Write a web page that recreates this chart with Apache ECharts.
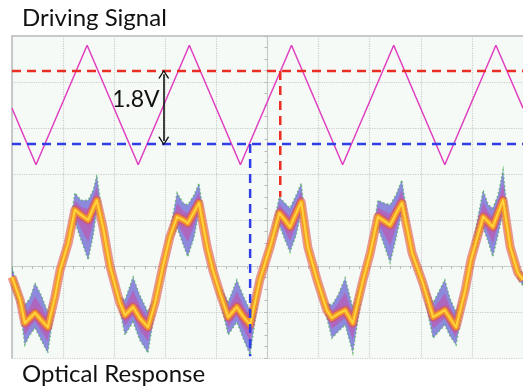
<!DOCTYPE html>
<html>
<head>
<meta charset="utf-8">
<script src="https://cdn.jsdelivr.net/npm/echarts@6/dist/echarts.min.js"></script>
<style>
  html, body { margin: 0; padding: 0; background: #fff; }
  #chart { width: 523px; height: 389px; }
</style>
</head>
<body>
<div id="chart"></div>
<script>
// screen divisions, measured from the centre of the scope screen
const driveX = [-5.00, -4.53, -3.53, -2.53, -1.53, -0.53, 0.47, 1.47, 2.47, 3.47, 4.47, 5.00]
const driveY = [3.43, 2.20, 4.80, 2.20, 4.80, 2.20, 4.80, 2.20, 4.80, 2.20, 4.80, 3.43]

// optical response: centre of the cloud and its upper / lower extent
const optX = [-5.00, -4.84, -4.75, -4.65, -4.55, -4.43, -4.30, -4.16, -4.06, -3.90, -3.77, -3.65, -3.51, -3.41, -3.34, -3.22, -3.08, -2.89,
  -2.79, -2.63, -2.50, -2.34, -2.20, -2.05, -1.91, -1.77, -1.65, -1.56, -1.44, -1.34, -1.18, -1.07, -0.93, -0.77,
  -0.60, -0.48, -0.34, -0.15, 0.05, 0.23, 0.34, 0.44, 0.56, 0.66, 0.79, 0.97, 1.16, 1.26,
  1.38, 1.52, 1.67, 1.87, 2.01, 2.16, 2.28, 2.40, 2.51, 2.63, 2.83, 3.04, 3.24,
  3.47, 3.57, 3.69, 3.87, 3.98, 4.22, 4.32, 4.41, 4.51, 4.61, 4.75, 4.90, 5.00]
const optCore = [-0.24, -0.74, -1.24, -1.13, -1.02, -1.17, -1.33, -0.67, -0.09, 0.50, 1.22, 1.11, 1.00, 1.26, 1.43, 0.85, -0.02, -0.80,
  -1.07, -0.89, -1.13, -1.33, -0.80, -0.02, 0.63, 1.07, 1.00, 0.93, 1.17, 1.37, 0.41, -0.09, -0.59, -1.11,
  -0.89, -1.09, -1.28, -0.30, 0.41, 1.15, 1.00, 0.85, 1.15, 1.39, 0.41, -0.30, -0.96, -1.13,
  -1.04, -0.96, -1.24, -0.30, 0.28, 1.07, 0.98, 0.89, 1.13, 1.37, 0.28, -0.37, -1.11,
  -0.96, -1.13, -1.33, -0.52, 0.13, 1.07, 0.96, 0.85, 1.15, 1.43, 0.41, -0.15, -0.30]
const optTop = [-0.04, -0.57, -0.85, -0.70, -0.37, -0.63, -1.00, -0.52, 0.04, 0.63, 1.59, 1.43, 1.43, 1.65, 1.98, 1.00, 0.11, -0.65,
  -0.74, -0.24, -0.63, -1.00, -0.65, 0.11, 0.76, 1.59, 1.37, 1.33, 1.54, 1.80, 0.54, 0.04, -0.43, -0.78,
  -0.30, -0.63, -0.96, -0.15, 0.54, 1.50, 1.37, 1.26, 1.54, 1.80, 0.54, -0.17, -0.80, -0.85,
  -0.63, -0.26, -0.91, -0.15, 0.41, 1.43, 1.37, 1.33, 1.54, 1.87, 0.41, -0.24, -0.80,
  -0.30, -0.70, -1.00, -0.39, 0.26, 1.65, 1.33, 1.26, 1.54, 2.09, 0.54, -0.02, -0.17]
const optBottom = [-0.43, -0.96, -1.72, -1.50, -1.35, -1.61, -1.89, -0.83, -0.22, 0.37, 0.96, 0.57, 0.13, 0.67, 1.22, 0.70, -0.15, -0.96,
  -1.50, -1.22, -1.61, -1.89, -0.96, -0.15, 0.50, 0.83, 0.46, 0.20, 0.61, 1.17, 0.28, -0.22, -0.74, -1.50,
  -1.22, -1.57, -1.93, -0.46, 0.28, 0.89, 0.57, 0.30, 0.67, 1.17, 0.28, -0.43, -1.13, -1.57,
  -1.43, -1.28, -1.89, -0.46, 0.15, 0.83, 0.46, 0.07, 0.57, 1.17, 0.15, -0.52, -1.57,
  -1.28, -1.52, -1.72, -0.65, 0.00, 0.83, 0.52, 0.20, 0.67, 1.17, 0.28, -0.28, -0.43]

// cursor levels and markers
const redLevel = 4.24
const blueLevel = 2.65
const redCursorX = 0.25
const redCursorEnd = 1.50
const blueCursorX = -0.34
const blueCursorEnd = -1.96
const arrowX = -2.03
const swingLabel = '1.8V'

const zip = (xs, ys) => xs.map((x, i) => [x, ys[i]])
const chevron = 'path://M0,10 L5,0 L10,10 L8.8,10.6 L5,2.6 L1.2,10.6 Z'

const chart = echarts.init(document.getElementById('chart'))

const gridLine = { show: true, lineStyle: { color: '#c9cdc9', type: 'dotted', width: 1.2 } }

// envelope of the noisy trace, drawn once: outer (blue) and inner (magenta) bands
function renderCloud(params, api) {
  if (params.dataIndex !== 0) return
  const band = (k) => {
    const up = optX.map((x, i) => api.coord([x, optCore[i] + k * (optTop[i] - optCore[i])]))
    const lo = optX.map((x, i) => api.coord([x, optCore[i] + k * (optBottom[i] - optCore[i])])).reverse()
    return up.concat(lo)
  }
  return {
    type: 'group',
    children: [
      {
        type: 'polygon',
        shape: { points: band(1) },
        style: { fill: 'rgba(66, 56, 205, 0.58)', stroke: 'rgba(70, 180, 80, 0.8)', lineWidth: 1.4, lineDash: [1.5, 2.5] }
      },
      {
        type: 'polygon',
        shape: { points: band(0.55) },
        style: { fill: 'rgba(214, 60, 150, 0.45)' }
      }
    ]
  }
}

const option = {
  animation: false,
  backgroundColor: '#fff',
  grid: { left: 12, right: 0, top: 36, bottom: 31, show: true, backgroundColor: '#f6faf6', borderWidth: 0 },
  xAxis: [
    {
      type: 'value', min: -5, max: 5, interval: 1,
      axisLine: { onZero: true, lineStyle: { color: '#c4c8c4', type: 'dotted', width: 1.2 } },
      axisTick: { show: true, length: 3, lineStyle: { color: '#b8bcb8' } },
      minorTick: { show: true, splitNumber: 5, length: 3, lineStyle: { color: '#b8bcb8' } },
      axisLabel: { show: false },
      splitLine: gridLine
    },
    {
      type: 'value', min: -5, max: 5, position: 'top',
      axisLine: { onZero: false, lineStyle: { color: '#c8c8c8', width: 2 } },
      axisTick: { show: false }, axisLabel: { show: false }, splitLine: { show: false }
    }
  ],
  yAxis: [
    {
      type: 'value', min: -2, max: 5, interval: 1,
      axisLine: { onZero: true, lineStyle: { color: '#c4c8c4', type: 'dotted', width: 1.2 } },
      axisTick: { show: true, length: 3, lineStyle: { color: '#b8bcb8' } },
      minorTick: { show: true, splitNumber: 4, length: 3, lineStyle: { color: '#b8bcb8' } },
      axisLabel: { show: false },
      splitLine: gridLine
    },
    {
      type: 'value', min: -2, max: 5, position: 'left',
      axisLine: { show: true, onZero: false, lineStyle: { color: '#c8c8c8', width: 2 } },
      axisTick: { show: false }, axisLabel: { show: false }, splitLine: { show: false }
    }
  ],
  graphic: [
    { type: 'text', left: 22, top: 6, style: { text: 'Driving Signal', font: '24px Lato', fill: '#111' } },
    { type: 'text', left: 22, top: 362, style: { text: 'Optical Response', font: '24px Lato', fill: '#111' } },
    { type: 'text', left: 112, top: 88, style: { text: swingLabel, font: '23px Lato', fill: '#111' } }
  ],
  series: [
    {
      name: 'cloud', type: 'custom', silent: true, clip: true,
      renderItem: renderCloud,
      data: zip(optX, optCore)
    },
    {
      name: 'cloudRed', type: 'line', symbol: 'none', silent: true,
      data: zip(optX, optCore),
      lineStyle: { width: 9, color: '#e0544f', opacity: 0.6, join: 'round' }
    },
    {
      name: 'cloudOrange', type: 'line', symbol: 'none', silent: true,
      data: zip(optX, optCore),
      lineStyle: { width: 5.5, color: '#f59c22', opacity: 0.95, join: 'round' }
    },
    {
      name: 'cloudYellow', type: 'line', symbol: 'none', silent: true,
      data: zip(optX, optCore),
      lineStyle: { width: 2, color: '#ffd43d', join: 'round' }
    },
    {
      name: 'drive', type: 'line', symbol: 'none', silent: true,
      data: zip(driveX, driveY),
      lineStyle: { width: 1.5, color: '#e03fbf' }
    },
    {
      name: 'redCursor', type: 'line', symbol: 'none', silent: true,
      data: [[-5, redLevel], [5, redLevel]],
      lineStyle: { width: 2.5, color: '#ea2e24', type: [9, 6] }
    },
    {
      name: 'redCursorV', type: 'line', symbol: 'none', silent: true,
      data: [[redCursorX, redLevel], [redCursorX, redCursorEnd]],
      lineStyle: { width: 2.5, color: '#ea2e24', type: [9, 6] }
    },
    {
      name: 'blueCursor', type: 'line', symbol: 'none', silent: true,
      data: [[-5, blueLevel], [5, blueLevel]],
      lineStyle: { width: 2.5, color: '#2f3ee6', type: [9, 6] }
    },
    {
      name: 'blueCursorV', type: 'line', symbol: 'none', silent: true,
      data: [[blueCursorX, blueLevel], [blueCursorX, blueCursorEnd]],
      lineStyle: { width: 2.5, color: '#2f3ee6', type: [9, 6] }
    },
    {
      name: 'swing', type: 'line', symbol: 'none', silent: true, data: [],
      markLine: {
        silent: true,
        symbol: [chevron, chevron],
        symbolSize: [11, 9],
        label: { show: false },
        lineStyle: { color: '#111', width: 1.6, type: 'solid' },
        data: [[{ coord: [arrowX, redLevel - 0.07] }, { coord: [arrowX, blueLevel + 0.07] }]]
      }
    }
  ]
}

chart.setOption(option)
window.addEventListener('resize', () => chart.resize())
</script>
</body>
</html>
